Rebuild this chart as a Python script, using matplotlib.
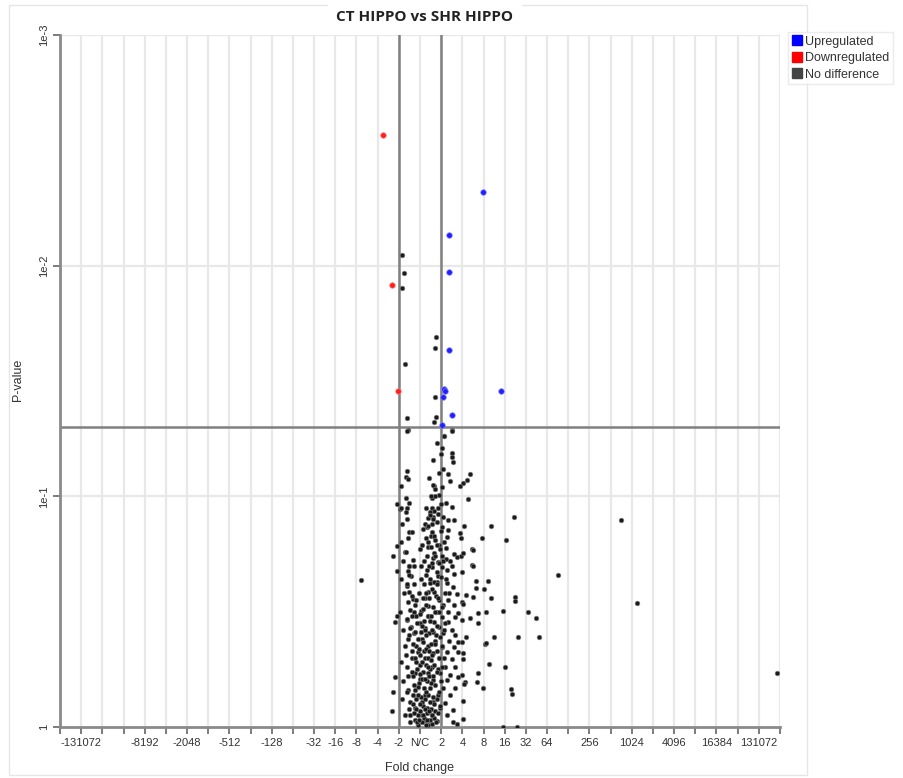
import matplotlib.pyplot as plt
import numpy as np
from matplotlib.patches import Rectangle

plt.rcParams["font.family"] = ["Liberation Sans", "DejaVu Sans"]

# signed log2 fold change (N/C = 0, 2 = 1, -2 = -1) and -log10(p)
up_fc = [2.99, 1.38, 1.38, 1.35, 1.13, 1.17, 1.10, 3.84, 1.51, 1.04]
up_nlp = [2.320, 2.133, 1.971, 1.634, 1.467, 1.457, 1.432, 1.458, 1.353, 1.309]

down_fc = [-1.76, -1.31, -1.02]
down_nlp = [2.568, 1.916, 1.458]

nd_fc = [
    -0.86, -0.77, -0.84, 0.77, 0.71, -0.71, 0.72, -0.63, 0.76, 0.66, -0.58, 1.51, 1.15,
    -0.60, 1.15, 1.53, 0.82, 1.02, 0.99, 1.50, 1.53, 1.56, 0.60, 1.07, 1.31, 2.37,
    -0.60, -0.68, -0.55, -0.88, 1.40, 2.04, 1.90, 2.23, 0.68, 0.71, 1.04, 0.90, 0.55,
    -0.66, 2.27, 1.23, 0.98, -1.10, -0.53, -0.61, -0.65, -0.94, 1.53, 0.55, 0.65, 0.46,
    0.86, 0.36, 0.61, 1.07, 1.31, 1.61, 0.80, 0.58, 2.06, 0.32, 1.02, -0.52, -0.39,
    0.55, 1.31, 1.90, 2.94, 0.52, 1.26, 0.71, 1.94, -1.07, 0.36, 0.90, 0.93, 1.21,
    2.44, 0.68, -0.71, -1.26, 1.62, 1.94, 2.04, 1.02, 0.63, -0.33, 1.21, 0.86, 1.75,
    -0.52, 2.44, 0.55, 1.02, 1.50, 0.32, -1.07, -0.58, 0.79, 1.26, 2.00, -0.42, 1.62,
    0.86,
    4.44, 3.34, 9.48, 4.06, 2.52, 2.49, 6.53, 2.63, 3.22, 2.64, 3.04, 2.17, 2.52, 3.34,
    4.49, 4.49, 1.97, 2.04, 10.23, 3.93, 3.12, 2.75, 2.75, 2.36, 5.11, 5.48, 1.97, 2.17,
    3.49, 4.64, 5.63, 3.07, 3.12, 1.97, 2.02, 2.02, 3.26, 4.01, 2.75, 1.97, 2.68, 2.12,
    2.08, 2.96, 4.28, 4.33, 16.87, 2.04, 2.04, 3.93, 4.59,
    -2.80, -1.07, -1.18, -1.18, -1.26, -1.34,
    -0.63, 0.47, 0.79, 1.26, 1.57, -0.51, 0.39, 0.68, 1.37, 1.73, -0.34, 0.24, 0.90,
    -0.24, 0.39, 1.10, 1.62, -0.47, 0.05, 0.74, 1.34, 1.81, -0.20, 0.39, 1.02, 1.65,
    -0.63, 0.00, 0.68, 1.31, -0.42, 0.24, 0.90, 1.50, -0.27, 0.42, 1.10, 1.65, -0.55,
    0.08, 0.71, 1.37, 1.78, -0.20, 0.39, 1.02, 1.62, -0.08, 0.63, 1.26, 1.78, -0.36,
    0.24, 0.90, 1.50, -0.63, 0.00, 0.55, 1.18, 1.65, -0.24, 0.36, 0.94, 1.42, 1.81,
    0.00, 0.63, 1.26, -0.55, -0.08, 0.47, 1.10, 1.65, -0.32, 0.24, 0.86, 1.42, -0.47,
    0.08, 0.63, 1.18, -0.24, 0.32, 0.94, 1.57, -0.47, 0.08, 0.55, 1.26, -0.24, 0.24,
    0.79, 1.57, 1.73, -0.08, 0.39,
    0.10, 0.20, 0.30, 0.45, 0.55, 0.65, -0.10, 0.00, 0.15, 0.35, 0.50, 0.70, -0.20,
    0.05, 0.25, 0.40, 0.60, 0.80, -0.30, -0.05, 0.18, 0.33, 0.52, 0.72, 1.00, -0.40,
    -0.12, 0.12, 0.28, 0.46, 0.68, 0.85, -0.25, 0.02, 0.20, 0.58, 0.78, 1.12, -0.35,
    -0.10, 0.14, 0.30, 0.50, 0.62, 0.95, -0.45, -0.15, 0.10, 0.46, 0.82, 1.20, -0.30,
    0.16, 0.28, 0.60, 0.88, -0.40, -0.05, 0.14, 0.56, 0.74, 1.16, -0.60, 0.05, 0.30,
    0.64, 0.98, -0.50, 0.20, 0.44, 0.70, 1.08, 0.10, 0.40, 0.66, 1.14, 0.24, 0.48,
    0.84, 0.70, 0.62, 0.92, 0.20, 0.38, -0.18, 0.08,
]
nd_nlp = [
    2.045, 1.968, 1.904, 1.689, 1.642, 1.572, 1.432, 1.341, 1.345, 1.323, 1.287, 1.287, 1.261,
    1.284, 1.263, 1.284, 1.232, 1.208, 1.182, 1.186, 1.169, 1.147, 1.156, 1.117, 1.095, 1.095,
    1.110, 1.085, 1.074, 1.046, 1.065, 1.056, 1.046, 1.071, 1.046, 1.030, 1.040, 1.006, 0.994,
    0.994, 0.988, 0.972, 0.967, 0.967, 0.972, 0.948, 0.933, 0.944, 0.955, 0.948, 0.938, 0.931,
    0.923, 0.905, 0.909, 0.909, 0.897, 0.897, 0.890, 0.880, 0.873, 0.866, 0.866, 0.847, 0.847,
    0.844, 0.854, 0.840, 0.818, 0.828, 0.825, 0.811, 0.818, 0.786, 0.782, 0.789, 0.770, 0.775,
    0.770, 0.756, 0.757, 0.743, 0.750, 0.741, 0.753, 0.741, 0.731, 0.724, 0.727, 0.717, 0.736,
    0.698, 0.702, 0.692, 0.692, 0.698, 0.681, 0.678, 0.678, 0.673, 0.681, 0.673, 0.655, 0.663,
    0.655,
    0.909, 0.873, 0.897, 0.811, 0.767, 0.699, 0.659, 0.633, 0.634, 0.601, 0.600, 0.572, 0.565, 0.558,
    0.565, 0.546, 0.543, 0.533, 0.539, 0.504, 0.500, 0.493, 0.452, 0.474, 0.497, 0.471, 0.464, 0.391,
    0.391, 0.391, 0.391, 0.360, 0.365, 0.370, 0.319, 0.293, 0.273, 0.259, 0.235, 0.225, 0.196, 0.196,
    0.186, 0.168, 0.163, 0.142, 0.233, 0.114, 0.033, 0.001, 0.000,
    0.637, 0.481, 0.456, 0.215, 0.153, 0.069,
    0.613, 0.623, 0.630, 0.623, 0.608, 0.584, 0.584, 0.587, 0.580, 0.577, 0.555, 0.558, 0.551,
    0.529, 0.525, 0.529, 0.529, 0.507, 0.504, 0.500, 0.500, 0.495, 0.481, 0.481, 0.478, 0.476,
    0.464, 0.452, 0.456, 0.456, 0.432, 0.428, 0.435, 0.420, 0.406, 0.406, 0.406, 0.399, 0.380,
    0.380, 0.374, 0.374, 0.370, 0.352, 0.351, 0.348, 0.348, 0.326, 0.322, 0.326, 0.326, 0.298,
    0.298, 0.298, 0.293, 0.259, 0.269, 0.261, 0.259, 0.259, 0.235, 0.233, 0.233, 0.225, 0.215,
    0.207, 0.204, 0.204, 0.160, 0.175, 0.168, 0.168, 0.168, 0.139, 0.139, 0.139, 0.139, 0.110,
    0.110, 0.110, 0.105, 0.081, 0.081, 0.081, 0.074, 0.052, 0.052, 0.052, 0.052, 0.030, 0.030,
    0.027, 0.023, 0.013, 0.009, 0.009,
    0.02, 0.04, 0.01, 0.03, 0.015, 0.04, 0.05, 0.07, 0.09, 0.06, 0.08, 0.07, 0.12,
    0.13, 0.12, 0.14, 0.13, 0.12, 0.18, 0.19, 0.17, 0.20, 0.19, 0.18, 0.20, 0.24,
    0.25, 0.24, 0.27, 0.25, 0.27, 0.25, 0.30, 0.31, 0.33, 0.31, 0.33, 0.30, 0.36,
    0.38, 0.37, 0.40, 0.36, 0.41, 0.39, 0.43, 0.45, 0.44, 0.46, 0.44, 0.45, 0.50,
    0.51, 0.53, 0.52, 0.50, 0.57, 0.58, 0.56, 0.60, 0.57, 0.58, 0.62, 0.64, 0.66,
    0.63, 0.65, 0.70, 0.72, 0.70, 0.74, 0.72, 0.79, 0.80, 0.83, 0.80, 0.88, 0.92,
    0.95, 1.00, 1.05, 1.10, 0.46, 0.30, 0.08, 0.21,
]

# more of the dense cloud around N/C, as (log2 fold change, -log10 p)
core_pts = [
    (-0.90, 0.95), (-0.85, 0.88), (-0.92, 0.80), (-0.80, 0.72), (-0.88, 0.64), (-0.75, 0.58),
    (-0.95, 0.50), (-0.82, 0.42), (-0.70, 0.35), (-0.90, 0.28), (-0.78, 0.20), (-0.85, 0.12),
    (-0.70, 0.05), (-0.60, 0.90), (-0.55, 0.82), (-0.65, 0.76), (-0.50, 0.66), (-0.58, 0.54),
    (-0.62, 0.47), (-0.52, 0.40), (-0.66, 0.31), (-0.56, 0.22), (-0.62, 0.15), (-0.54, 0.08),
    (-0.45, 0.02), (-0.35, 0.10), (-0.28, 0.06), (-0.15, 0.02), (-0.05, 0.03), (0.12, 0.05),
    (0.22, 0.08), (0.32, 0.03), (0.42, 0.07), (0.58, 0.05), (0.75, 0.02), (0.85, 0.06),
    (0.95, 0.09), (-0.22, 0.16), (-0.08, 0.14), (0.02, 0.10), (0.28, 0.15), (0.48, 0.11),
    (0.66, 0.10), (0.90, 0.15), (-0.35, 0.22), (-0.02, 0.23), (0.22, 0.21), (0.42, 0.22),
    (0.62, 0.22), (0.78, 0.24), (1.05, 0.26), (-0.18, 0.28), (0.08, 0.28), (0.36, 0.26),
    (0.52, 0.29), (0.92, 0.30), (-0.40, 0.33), (-0.06, 0.34), (0.30, 0.34), (0.44, 0.33),
    (0.70, 0.36), (1.02, 0.35), (-0.24, 0.41), (0.04, 0.41), (0.24, 0.42), (0.56, 0.42),
    (0.76, 0.40), (1.14, 0.42), (-0.36, 0.48), (0.00, 0.49), (0.36, 0.48), (0.54, 0.48),
    (0.72, 0.50), (1.06, 0.52), (-0.20, 0.55), (0.26, 0.58), (0.42, 0.56), (0.84, 0.56),
    (1.30, 0.55), (-0.28, 0.62), (0.18, 0.62), (0.48, 0.64), (0.80, 0.62), (1.22, 0.64),
    (-0.30, 0.70), (0.06, 0.70), (0.34, 0.74), (0.58, 0.71), (0.88, 0.71), (1.40, 0.72),
    (0.02, 0.77), (0.28, 0.82), (0.54, 0.78), (0.80, 0.79), (1.00, 0.85), (0.16, 0.86),
    (0.40, 0.87), (0.62, 0.90), (0.30, 0.95), (0.52, 1.00), (0.44, 1.08),
]
nd_fc = nd_fc + [p[0] for p in core_pts]
nd_nlp = nd_nlp + [p[1] for p in core_pts]

tick_pos = [-16, -13, -11, -9, -7, -5, -4, -3, -2, -1, 0, 1, 2, 3, 4, 5, 6, 8, 10, 12, 14, 16]
tick_txt = ["-131072", "-8192", "-2048", "-512", "-128", "-32", "-16", "-8", "-4", "-2", "N/C",
            "2", "4", "8", "16", "32", "64", "256", "1024", "4096", "16384", "131072"]

fig = plt.figure(figsize=(9.04, 7.78), dpi=100)
fig.add_artist(Rectangle((9 / 904, 3 / 778), 798 / 904, 770 / 778, transform=fig.transFigure,
                         fill=False, ec="#e6e6e6", lw=1))
ax = fig.add_axes([60 / 904, 51 / 778, 720 / 904, 692 / 778])

ax.set_yscale("log")
ax.set_xlim(-17, 17)
ax.set_ylim(1, 1e-3)

for v in range(-17, 18):
    ax.axvline(v, color="#e8e8e8", lw=1.6, zorder=0)
for v in [1e-1, 1e-2, 1e-3]:
    ax.axhline(v, color="#e8e8e8", lw=1.6, zorder=0)

ax.axvline(-1, color="#808080", lw=1.8, zorder=1)
ax.axvline(1, color="#808080", lw=1.8, zorder=1)
ax.axhline(0.05, color="#808080", lw=1.8, zorder=1)

ax.scatter(nd_fc, 10 ** -np.array(nd_nlp), s=11, c="#1a1a1a", ec="#777777", lw=0.5, zorder=3)
ax.scatter(up_fc, 10 ** -np.array(up_nlp), s=16, c="#1f1fff", ec="#8080ff", lw=0.5, zorder=4)
ax.scatter(down_fc, 10 ** -np.array(down_nlp), s=16, c="#ff1f1f", ec="#ff8080", lw=0.5, zorder=4)

ax.set_xticks(range(-17, 18))
lab = {p: t for p, t in zip(tick_pos, tick_txt)}
ax.set_xticklabels([lab.get(p, "") for p in range(-17, 18)], fontsize=8, color="#333333")
ax.set_yticks([1, 1e-1, 1e-2, 1e-3])
ax.set_yticklabels(["1", "1e-1", "1e-2", "1e-3"], rotation=90, va="center", fontsize=8,
                   color="#333333")
ax.minorticks_off()
ax.tick_params(axis="both", length=5, width=1.2, color="#666666", pad=3)

for s in ["top", "right"]:
    ax.spines[s].set_visible(False)
for s in ["left", "bottom"]:
    ax.spines[s].set_color("#8a8a8a")
    ax.spines[s].set_linewidth(2)

fig.text(425 / 904, 1 - 17 / 778, "CT HIPPO vs SHR HIPPO", ha="center", va="center",
         fontsize=11, fontweight="bold", family=["Open Sans", "DejaVu Sans"], color="#222222",
         bbox=dict(fc="white", ec="none", pad=6))
fig.text(420 / 904, 1 - 768 / 778, "Fold change", ha="center", va="center", fontsize=9,
         color="#333333")
fig.text(18 / 904, 1 - 380 / 778, "P-value", ha="center", va="center", rotation=90,
         fontsize=9, color="#333333")

handles = [plt.Line2D([], [], ls="", marker="s", ms=7, color=c) for c in ["#0000ff", "#ff0000", "#444444"]]
leg = fig.legend(handles, ["Upregulated", "Downregulated", "No difference"],
                 loc="upper left", bbox_to_anchor=(788 / 904, 1 - 32 / 778), fontsize=9,
                 frameon=True, fancybox=False, edgecolor="#e6e6e6", handlelength=0.8,
                 handletextpad=0.3, borderpad=0.3, labelspacing=0.35, borderaxespad=0)
for t in leg.get_texts():
    t.set_color("#333333")

fig.savefig("out.png", dpi=100)
